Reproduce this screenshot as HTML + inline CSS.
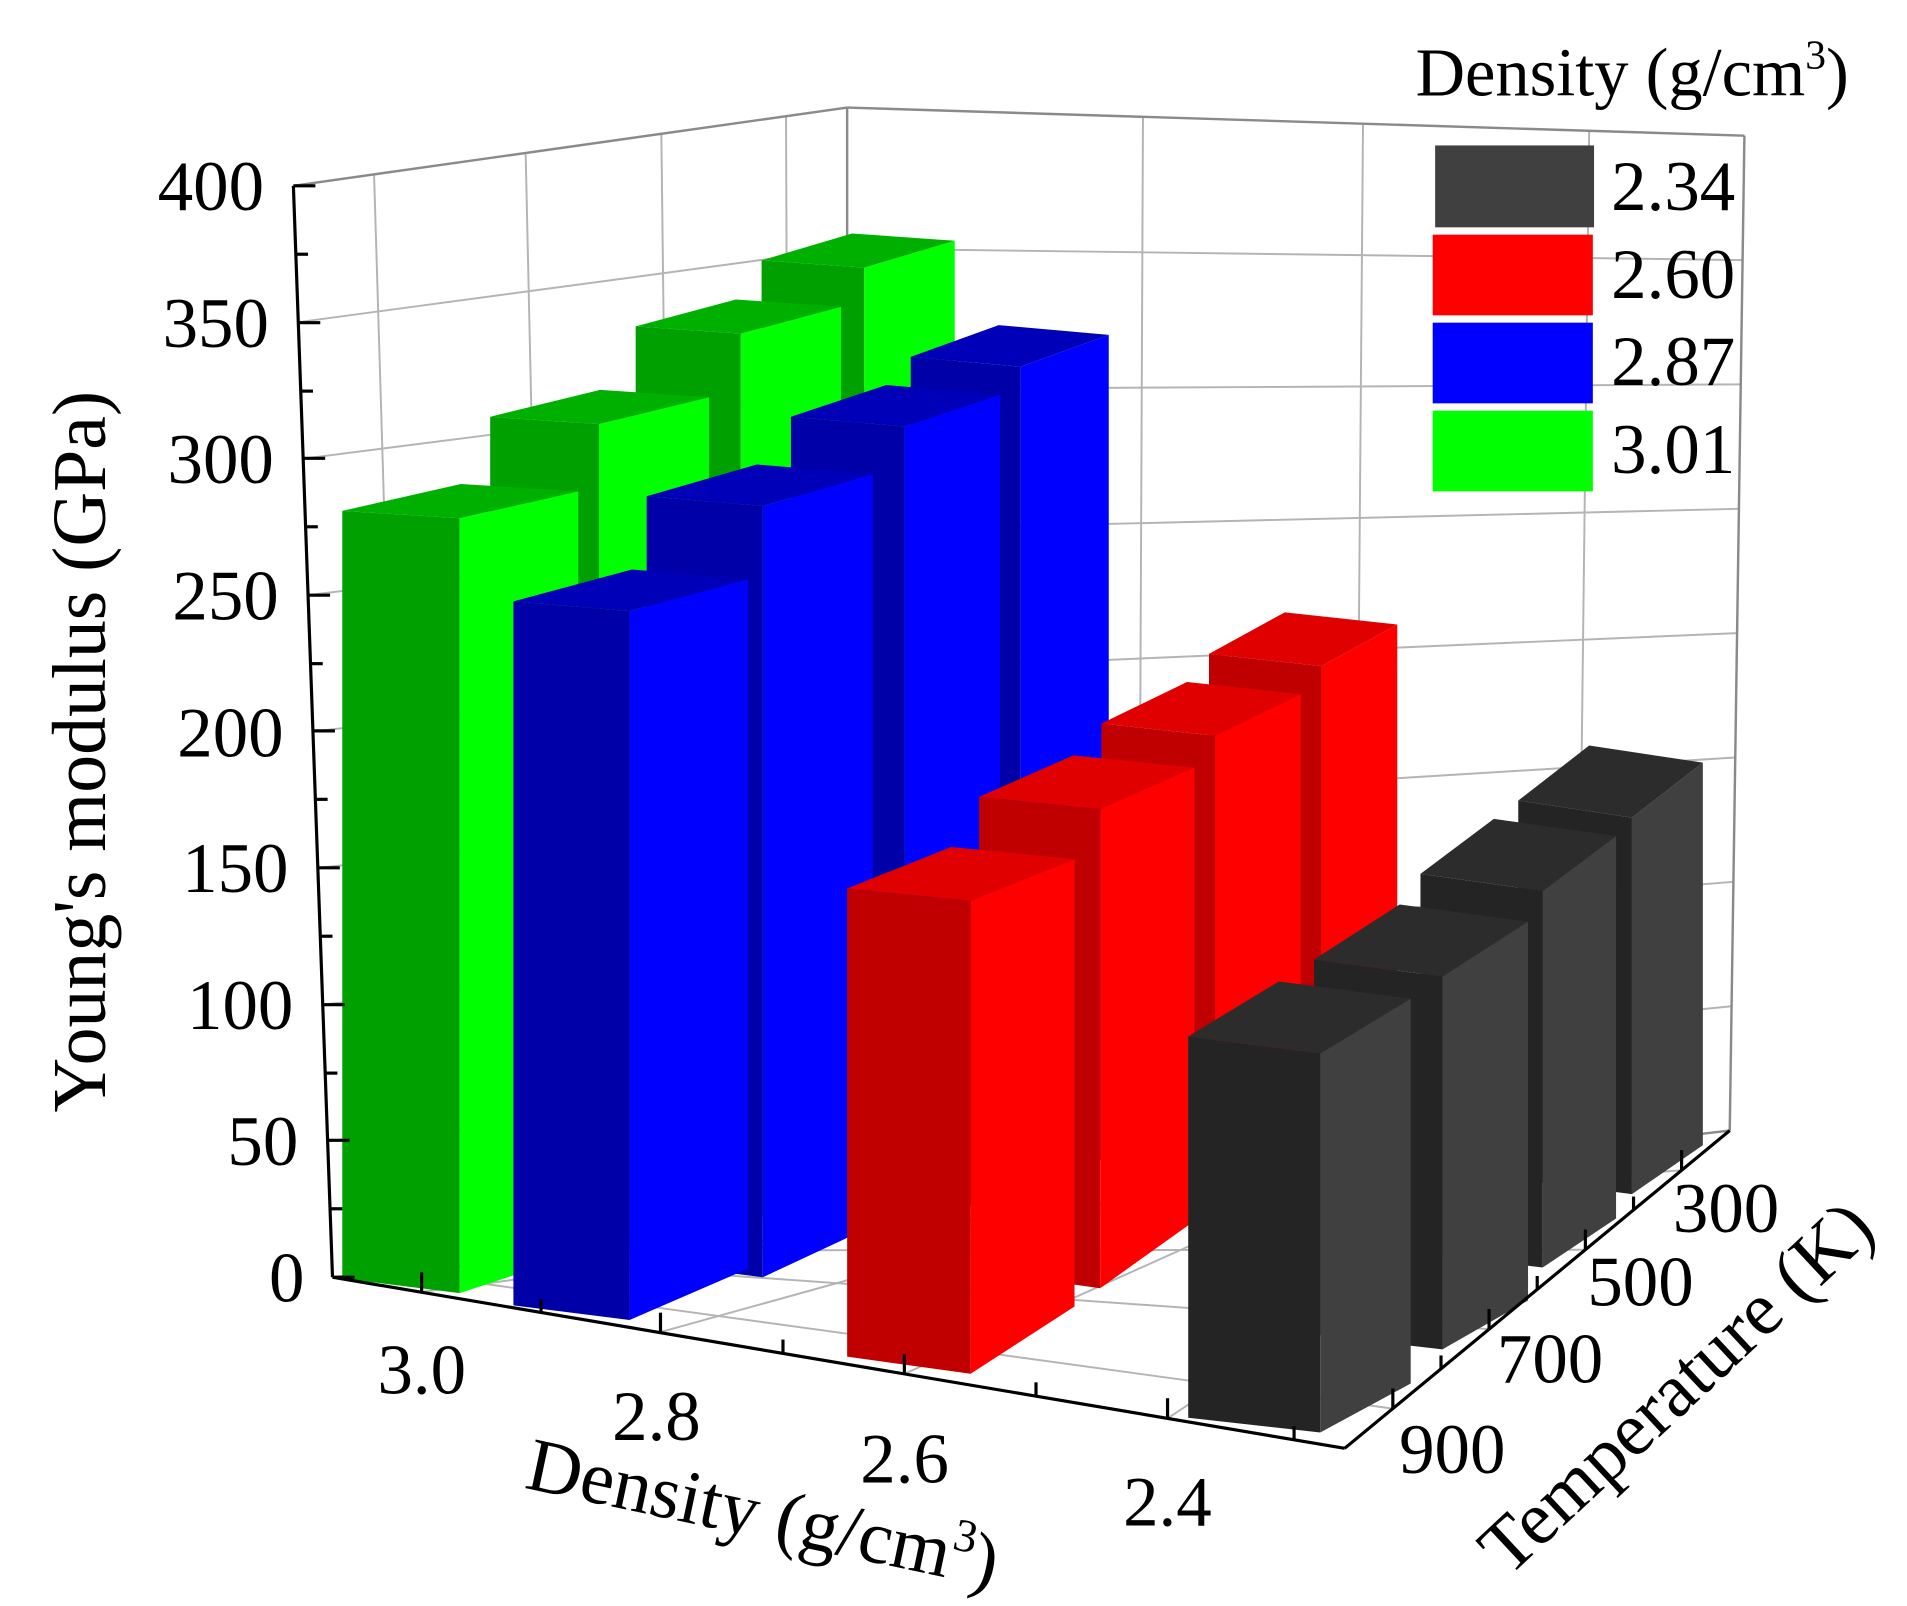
<!DOCTYPE html>
<html><head><meta charset="utf-8"><style>
html,body{margin:0;padding:0;background:#fff;}
svg{display:block;}
text{font-family:"Liberation Serif","DejaVu Serif",serif;fill:#000;}
</style></head><body>
<svg width="1907" height="1606" viewBox="0 0 1560 1314" preserveAspectRatio="none" xmlns="http://www.w3.org/2000/svg">
<rect x="0" y="0" width="1560" height="1314" fill="#fff"/>
<g stroke="#b4b4b4" stroke-width="1.6" fill="none">
<!-- left wall horizontals -->
<line x1="268" y1="933.4" x2="693" y2="894.8"/>
<line x1="264" y1="821.8" x2="693" y2="779.5"/>
<line x1="260" y1="710.1" x2="693" y2="664.3"/>
<line x1="256" y1="598.5" x2="693" y2="549"/>
<line x1="252" y1="486.9" x2="693" y2="433.8"/>
<line x1="248" y1="375.3" x2="693" y2="318.5"/>
<line x1="244" y1="263.6" x2="693" y2="203.3"/>
<!-- left wall verticals -->
<line x1="306" y1="143" x2="333" y2="1040"/>
<line x1="430" y1="125" x2="450" y2="1030"/>
<line x1="541" y1="109" x2="552" y2="1022"/>
<line x1="643" y1="95" x2="646.5" y2="1014"/>
<!-- right wall horizontals -->
<line x1="693" y1="894.8" x2="1416.5" y2="823.3"/>
<line x1="693" y1="779.5" x2="1418" y2="721.5"/>
<line x1="693" y1="664.3" x2="1419.5" y2="619.8"/>
<line x1="693" y1="549" x2="1421" y2="518"/>
<line x1="693" y1="433.8" x2="1422.5" y2="416.3"/>
<line x1="693" y1="318.5" x2="1424" y2="314.5"/>
<line x1="693" y1="203.3" x2="1425.5" y2="212.8"/>
<!-- right wall verticals -->
<line x1="935" y1="95.6" x2="931" y2="981.5"/>
<line x1="1115" y1="101" x2="1108" y2="961"/>
<line x1="1300" y1="107" x2="1290" y2="940"/>
<!-- floor -->
<line x1="345" y1="1057" x2="756.5" y2="1002.5"/>
<line x1="540" y1="1090" x2="927" y2="982.5"/>
<line x1="740" y1="1124" x2="1101" y2="962"/>
<line x1="955" y1="1160.5" x2="1288.7" y2="940"/>
<line x1="324.6" y1="1040.6" x2="1139.4" y2="1152.5"/>
<line x1="429.9" y1="1031.9" x2="1218" y2="1087.5"/>
<line x1="535" y1="1023" x2="1297" y2="1022.5"/>
<line x1="640" y1="1014" x2="1375.6" y2="957.5"/>
</g>
<g stroke="#8a8a8a" stroke-width="2" fill="none">
<line x1="240" y1="152" x2="693" y2="88"/>
<line x1="693" y1="88" x2="1427" y2="111"/>
<line x1="693" y1="88" x2="693" y2="1010"/>
<line x1="1427" y1="111" x2="1415" y2="925"/>
<line x1="272" y1="1045" x2="693" y2="1010"/>
<line x1="693" y1="1010" x2="1415" y2="925"/>
</g>

<!-- GREEN -->
<g>
<polygon points="623,213 707,219 707,977 623,965" fill="#00a000"/>
<polygon points="707,219 781,197 781,945 707,977" fill="#00ff00"/>
<polygon points="623,213 707,219 781,197 697,191" fill="#00b000"/>
<polygon points="520,267 606,273 606,1002 520,990" fill="#00a000"/>
<polygon points="606,273 688,251 688,970 606,1002" fill="#00ff00"/>
<polygon points="520,267 606,273 688,251 602,245" fill="#00b000"/>
<polygon points="401,341 490,347 490,1030 401,1018" fill="#00a000"/>
<polygon points="490,347 580,325 580,998 490,1030" fill="#00ff00"/>
<polygon points="401,341 490,347 580,325 491,319" fill="#00b000"/>
<polygon points="280,418 376,424 376,1058 280,1046" fill="#00a000"/>
<polygon points="376,424 473,402 473,1026 376,1058" fill="#00ff00"/>
<polygon points="280,418 376,424 473,402 377,396" fill="#00b000"/>
</g>
<!-- BLUE -->
<g>
<polygon points="745,292 835,300 835,987 745,975" fill="#0000a8"/>
<polygon points="835,300 907,274 907,945 835,987" fill="#0000ff"/>
<polygon points="745,292 835,300 907,274 817,266" fill="#0000b8"/>
<polygon points="647,341 740,349 740,1015 647,1003" fill="#0000a8"/>
<polygon points="740,349 818,323 818,973 740,1015" fill="#0000ff"/>
<polygon points="647,341 740,349 818,323 725,315" fill="#0000b8"/>
<polygon points="529,406 624,414 624,1045 529,1033" fill="#0000a8"/>
<polygon points="624,414 714,388 714,1003 624,1045" fill="#0000ff"/>
<polygon points="529,406 624,414 714,388 619,380" fill="#0000b8"/>
<polygon points="420,492 515,500 515,1080 420,1068" fill="#0000a8"/>
<polygon points="515,500 612,474 612,1038 515,1080" fill="#0000ff"/>
<polygon points="420,492 515,500 612,474 517,466" fill="#0000b8"/>
</g>
<!-- RED -->
<g>
<polygon points="989,535 1081,545 1081,969 989,955" fill="#c00000"/>
<polygon points="1081,545 1143,511 1143,914 1081,969" fill="#ff0000"/>
<polygon points="989,535 1081,545 1143,511 1051,501" fill="#e00000"/>
<polygon points="901,592 994,602 994,1004 901,990" fill="#c00000"/>
<polygon points="994,602 1064,568 1064,949 994,1004" fill="#ff0000"/>
<polygon points="901,592 994,602 1064,568 971,558" fill="#e00000"/>
<polygon points="801,652 900,662 900,1054 801,1040" fill="#c00000"/>
<polygon points="900,662 977,628 977,999 900,1054" fill="#ff0000"/>
<polygon points="801,652 900,662 977,628 878,618" fill="#e00000"/>
<polygon points="693,727 794,737 794,1124 693,1110" fill="#c00000"/>
<polygon points="794,737 879,703 879,1069 794,1124" fill="#ff0000"/>
<polygon points="693,727 794,737 879,703 778,693" fill="#e00000"/>
</g>
<!-- BLACK -->
<g>
<polygon points="1242,655 1335,669 1335,977 1242,965" fill="#242424"/>
<polygon points="1335,669 1393,624 1393,937 1335,977" fill="#404040"/>
<polygon points="1242,655 1335,669 1393,624 1300,610" fill="#2c2c2c"/>
<polygon points="1162,715 1262,729 1262,1037 1162,1025" fill="#242424"/>
<polygon points="1262,729 1322,684 1322,997 1262,1037" fill="#404040"/>
<polygon points="1162,715 1262,729 1322,684 1222,670" fill="#2c2c2c"/>
<polygon points="1075,785 1180,799 1180,1104 1075,1092" fill="#242424"/>
<polygon points="1180,799 1250,754 1250,1064 1180,1104" fill="#404040"/>
<polygon points="1075,785 1180,799 1250,754 1145,740" fill="#2c2c2c"/>
<polygon points="972,848 1080,862 1080,1172 972,1160" fill="#242424"/>
<polygon points="1080,862 1154,817 1154,1132 1080,1172" fill="#404040"/>
<polygon points="972,848 1080,862 1154,817 1046,803" fill="#2c2c2c"/>
</g>

<!-- axes -->
<g stroke="#000" stroke-width="2.6" fill="none">
<line x1="240" y1="152" x2="272" y2="1045"/>
<line x1="272" y1="1045" x2="1100" y2="1185"/>
<line x1="1100" y1="1185" x2="1415" y2="925"/>
<!-- z ticks -->
<line x1="240" y1="152" x2="258" y2="152"/>
<line x1="242" y1="208" x2="252" y2="208"/>
<line x1="244" y1="264" x2="262" y2="264"/>
<line x1="246" y1="320" x2="256" y2="320"/>
<line x1="248" y1="375" x2="266" y2="375"/>
<line x1="250" y1="431" x2="260" y2="431"/>
<line x1="252" y1="487" x2="270" y2="487"/>
<line x1="254" y1="543" x2="264" y2="543"/>
<line x1="256" y1="598" x2="274" y2="598"/>
<line x1="258" y1="654" x2="268" y2="654"/>
<line x1="260" y1="710" x2="278" y2="710"/>
<line x1="262" y1="766" x2="272" y2="766"/>
<line x1="264" y1="822" x2="282" y2="822"/>
<line x1="266" y1="878" x2="276" y2="878"/>
<line x1="268" y1="933" x2="286" y2="933"/>
<line x1="270" y1="989" x2="280" y2="989"/>
<line x1="272" y1="1045" x2="290" y2="1045"/>
<!-- density ticks -->
<line x1="344.9" y1="1057.3" x2="344.9" y2="1041"/>
<line x1="442.6" y1="1073.8" x2="442.6" y2="1063"/>
<line x1="540.3" y1="1090.4" x2="540.3" y2="1074"/>
<line x1="640.5" y1="1107.3" x2="640.5" y2="1096"/>
<line x1="739.8" y1="1124.1" x2="739.8" y2="1108"/>
<line x1="847.5" y1="1142.3" x2="847.5" y2="1131"/>
<line x1="955.1" y1="1160.5" x2="955.1" y2="1144"/>
<line x1="1058.6" y1="1178" x2="1058.6" y2="1167"/>
<!-- temp ticks -->
<line x1="1139.4" y1="1152.5" x2="1139.4" y2="1136"/>
<line x1="1178.8" y1="1120" x2="1178.8" y2="1109"/>
<line x1="1218.1" y1="1087.5" x2="1218.1" y2="1071"/>
<line x1="1257.5" y1="1055" x2="1257.5" y2="1044"/>
<line x1="1296.9" y1="1022.5" x2="1296.9" y2="1006"/>
<line x1="1336.3" y1="990" x2="1336.3" y2="979"/>
<line x1="1375.6" y1="957.5" x2="1375.6" y2="941"/>
</g>

<!-- z labels -->
<g font-size="58" text-anchor="end">
<text x="216" y="172">400</text>
<text x="220" y="284">350</text>
<text x="224" y="395">300</text>
<text x="228" y="507">250</text>
<text x="232" y="619">200</text>
<text x="236" y="730">150</text>
<text x="240" y="842">100</text>
<text x="244" y="953">50</text>
<text x="249" y="1065">0</text>
</g>
<!-- density labels -->
<g font-size="58" text-anchor="middle">
<text x="345" y="1140">3.0</text>
<text x="537" y="1178">2.8</text>
<text x="740" y="1213">2.6</text>
<text x="955" y="1248">2.4</text>
<text x="1188" y="1205">900</text>
<text x="1268" y="1131">700</text>
<text x="1342" y="1068">500</text>
<text x="1412" y="1008">300</text>
</g>
<!-- axis titles -->
<text font-size="62" text-anchor="middle" transform="translate(86,615) rotate(-90)">Young's modulus (GPa)</text>
<text font-size="62" text-anchor="middle" transform="translate(620,1258) rotate(12)">Density (g/cm<tspan font-size="38" dy="-24">3</tspan><tspan dy="24">)</tspan></text>
<text font-size="62" text-anchor="middle" transform="translate(1385,1150) rotate(-43)">Temperature (K)</text>

<!-- legend -->
<text x="1158" y="78" font-size="56">Density (g/cm<tspan font-size="34" dy="-22">3</tspan><tspan dy="22">)</tspan></text>
<rect x="1174" y="119" width="130" height="67" fill="#404040"/>
<rect x="1172" y="192" width="131" height="66" fill="#ff0000"/>
<rect x="1172" y="264" width="131" height="66" fill="#0000ff"/>
<rect x="1172" y="336" width="131" height="66" fill="#00ff00"/>
<g font-size="58">
<text x="1318" y="172">2.34</text>
<text x="1318" y="244">2.60</text>
<text x="1318" y="315">2.87</text>
<text x="1318" y="387">3.01</text>
</g>
</svg>
</body></html>
